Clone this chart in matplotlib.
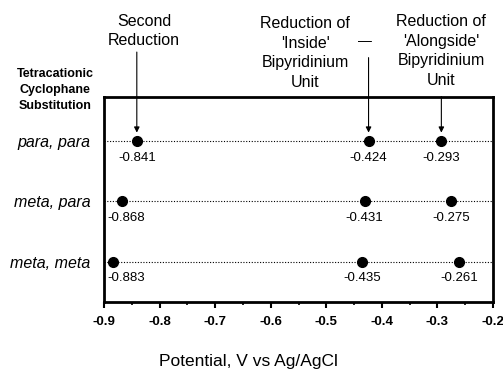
import matplotlib
matplotlib.use("Agg")
import matplotlib.pyplot as plt
from matplotlib.ticker import MultipleLocator, FormatStrFormatter

plt.rcParams['font.family'] = ['Liberation Sans', 'DejaVu Sans']
plt.rcParams['axes.unicode_minus'] = False

rows = ["para, para", "meta, para", "meta, meta"]
second_red = [-0.841, -0.868, -0.883]
inside_red = [-0.424, -0.431, -0.435]
alongside_red = [-0.293, -0.275, -0.261]
xticks = [-0.9, -0.8, -0.7, -0.6, -0.5, -0.4, -0.3, -0.2]

fig = plt.figure(figsize=(5.03, 3.70), dpi=100)
ax = fig.add_axes([0.2068, 0.184, 0.7734, 0.554])
ax.set_xlim(-0.9, -0.2)
ax.set_ylim(0.33, 3.73)

ypos = [3, 2, 1]
for y in ypos:
    ax.axhline(y, color='black', lw=0.8, linestyle=(0, (1, 1.5)), zorder=1)

for series in (second_red, inside_red, alongside_red):
    ax.plot(series, ypos, 'o', color='black', markersize=7, linestyle='none',
            zorder=3, clip_on=False)
    for v, y in zip(series, ypos):
        lx = max(v, -0.86)
        ax.annotate(f"{v:.3f}", xy=(lx, y), xytext=(0, -12), textcoords='offset points',
                    ha='center', va='center', fontsize=9.5, annotation_clip=False)

# arrows from annotations to the para,para points
for v, L in ((second_red[0], 64), (inside_red[0], 60), (alongside_red[0], 32)):
    ax.annotate('', xy=(v, 3), xytext=(0, L), textcoords='offset points',
                arrowprops=dict(arrowstyle='-|>', color='black', lw=0.8,
                                shrinkA=0, shrinkB=6, mutation_scale=8),
                annotation_clip=False)

ax.set_yticks(ypos)
ax.set_yticklabels(rows, fontsize=11.5, style='italic')
ax.tick_params(axis='y', length=0, pad=10)

ax.xaxis.set_major_locator(MultipleLocator(0.1))
ax.xaxis.set_minor_locator(MultipleLocator(0.05))
ax.xaxis.set_major_formatter(FormatStrFormatter('%.1f'))
ax.set_xticks(xticks)
ax.tick_params(axis='x', which='major', direction='out', length=4, width=1.5, pad=6,
               labelsize=9.5)
ax.tick_params(axis='x', which='minor', direction='out', length=2.5, width=1.2)
for lbl in ax.get_xticklabels():
    lbl.set_fontweight('bold')

for s in ax.spines.values():
    s.set_linewidth(2)
    s.set_color('black')

fig.text(144/503, 1-31/370, "Second\nReduction", ha='center', va='center',
         fontsize=11.5, linespacing=1.4)
fig.text(305/503, 1-53/370, "Reduction of\n'Inside'\nBipyridinium\nUnit",
         ha='center', va='center', fontsize=11.5, linespacing=1.4)
fig.text(441/503, 1-51/370, "Reduction of\n'Alongside'\nBipyridinium\nUnit",
         ha='center', va='center', fontsize=11.5, linespacing=1.4)
fig.text(365/503, 1-41/370, "—", ha='center', va='center', fontsize=10)
fig.text(55/503, 1-90/370, "Tetracationic\nCyclophane\nSubstitution",
         ha='center', va='center', fontsize=9, fontweight='bold', linespacing=1.45)
fig.text(248/503, 0.024, "Potential, V vs Ag/AgCl", ha='center', va='center',
         fontsize=12.5)

fig.savefig("out.png", dpi=100)
